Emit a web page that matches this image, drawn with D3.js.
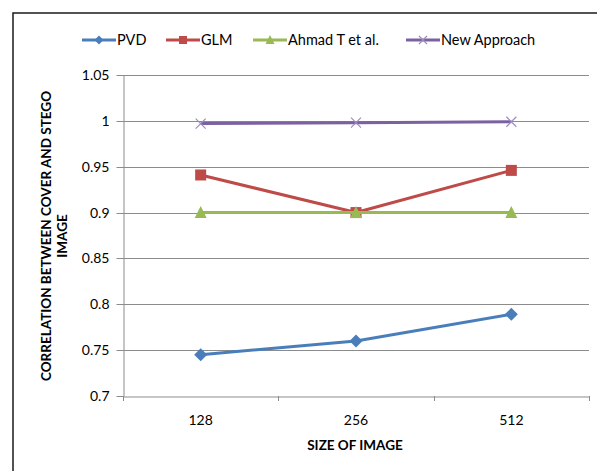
<!DOCTYPE html>
<html><head><meta charset="utf-8">
<script src="https://cdn.jsdelivr.net/npm/d3@7"></script>
<style>body{margin:0;background:#fff}svg{display:block}text{font-family:Lato,"Open Sans",sans-serif;fill:#000}</style>
</head><body>
<svg id="c" width="597" height="471"></svg>
<script>
const categories = ["128", "256", "512"];
const yTicks = [0.7, 0.75, 0.8, 0.85, 0.9, 0.95, 1, 1.05];
const pvd = [0.745, 0.760, 0.789];
const glm = [0.941, 0.900, 0.946];
const ahmad = [0.900, 0.900, 0.900];
const newApproach = [0.997, 0.998, 0.999];
const seriesNames = ["PVD", "GLM", "Ahmad T et al.", "New Approach"];
const colors = ["#4A7EBB", "#BE4B48", "#98B954", "#7D60A0"];
const markers = ["diamond", "square", "triangle", "cross"];

const series = [pvd, glm, ahmad, newApproach].map((v, i) => ({name: seriesNames[i], values: v, color: colors[i], marker: markers[i]}));

const svg = d3.select("#c");
const m = {left: 123, right: 589, top: 75, bottom: 396};

// frame
svg.append("rect").attr("x", 13).attr("y", 13).attr("width", 700).attr("height", 700)
  .attr("fill", "none").attr("stroke", "#1a1a1a").attr("stroke-width", 1.5);

const x = d3.scaleBand().domain(categories).range([m.left, m.right]);
const y = d3.scaleLinear().domain([0.7, 1.05]).range([m.bottom, m.top]);

// gridlines
svg.append("g").selectAll("line").data(yTicks.slice(1)).join("line")
  .attr("x1", m.left).attr("x2", m.right)
  .attr("y1", d => Math.round(y(d)) + 0.5).attr("y2", d => Math.round(y(d)) + 0.5)
  .attr("stroke", "#8c8c8c").attr("stroke-width", 1);

// y axis
const yAxis = svg.append("g").attr("transform", `translate(${m.left + 0.5},0)`)
  .call(d3.axisLeft(y).tickValues(yTicks).tickSize(7).tickSizeOuter(0).tickPadding(7).tickFormat(d => String(+d.toFixed(2))));
yAxis.selectAll("line,path").attr("stroke", "#8c8c8c");
yAxis.selectAll("text").style("font-size", "14px").style("font-family", "Lato, sans-serif").attr("fill", "#000");
yAxis.selectAll(".tick").attr("transform", d => `translate(0,${Math.round(y(d)) + 0.5})`);

// x axis
const xAxis = svg.append("g").attr("transform", `translate(0,${m.bottom + 0.5})`)
  .call(d3.axisBottom(x).tickSize(0).tickPadding(19));
xAxis.select("path").attr("stroke", "#8c8c8c");
xAxis.selectAll("text").style("font-size", "14px").style("font-family", "Lato, sans-serif").attr("fill", "#000");
// category boundary ticks
const bounds = categories.map(c => x(c)).concat([x(categories[categories.length - 1]) + x.bandwidth()]);
svg.append("g").selectAll("line").data(bounds).join("line")
  .attr("x1", d => Math.round(d) + 0.5).attr("x2", d => Math.round(d) + 0.5)
  .attr("y1", m.bottom).attr("y2", m.bottom + 5).attr("stroke", "#8c8c8c");

const cx = c => x(c) + x.bandwidth() / 2;

function drawMarker(g, type, color, size) {
  const s = size / 2;
  if (type === "diamond") {
    g.append("path").attr("d", `M0,${-s}L${s},0L0,${s}L${-s},0Z`).attr("fill", color);
  } else if (type === "square") {
    g.append("rect").attr("x", -s).attr("y", -s).attr("width", size).attr("height", size).attr("fill", color);
  } else if (type === "triangle") {
    g.append("path").attr("d", `M0,${-s - 1}L${s + 0.5},${s}L${-s - 0.5},${s}Z`).attr("fill", color);
  } else {
    g.append("path").attr("d", `M${-s},${-s}L${s},${s}M${-s},${s}L${s},${-s}`).attr("stroke", "#9C8DBF").attr("stroke-width", 1.2).attr("fill", "none");
  }
}

const line = d3.line().x((d, i) => cx(categories[i])).y(d => y(d));
series.forEach(s => {
  const g = svg.append("g");
  g.append("path").attr("d", line(s.values)).attr("fill", "none").attr("stroke", s.color).attr("stroke-width", 3).attr("stroke-linejoin", "round");
  s.values.forEach((v, i) => {
    const mg = g.append("g").attr("transform", `translate(${cx(categories[i])},${y(v)})`);
    drawMarker(mg, s.marker, s.color, s.marker === "diamond" ? 13 : (s.marker === "cross" ? 10 : 11));
  });
});

// legend
const legendX = [82, 166, 253, 406];
const lg = svg.append("g");
series.forEach((s, i) => {
  const g = lg.append("g").attr("transform", `translate(${legendX[i]},40)`);
  g.append("line").attr("x1", 0).attr("x2", 34).attr("y1", 0).attr("y2", 0).attr("stroke", s.color).attr("stroke-width", 3);
  const mg = g.append("g").attr("transform", "translate(17,0)");
  drawMarker(mg, s.marker, s.color, s.marker === "diamond" ? 9 : 8);
  g.append("text").attr("x", 35).attr("y", 0).attr("dy", "0.35em").style("font-size", "14.5px").text(s.name);
});

// axis titles
svg.append("text").attr("x", 355).attr("y", 450).attr("text-anchor", "middle")
  .style("font-size", "13.5px").style("font-weight", "bold").text("SIZE  OF IMAGE");
const yt = svg.append("text").attr("transform", "translate(51,236) rotate(-90)").attr("text-anchor", "middle")
  .style("font-size", "13.5px").style("font-weight", "bold");
yt.append("tspan").attr("x", 0).attr("y", 0).text("CORRELATION  BETWEEN  COVER AND STEGO");
yt.append("tspan").attr("x", 0).attr("y", 16).text("IMAGE");
</script>
</body></html>
